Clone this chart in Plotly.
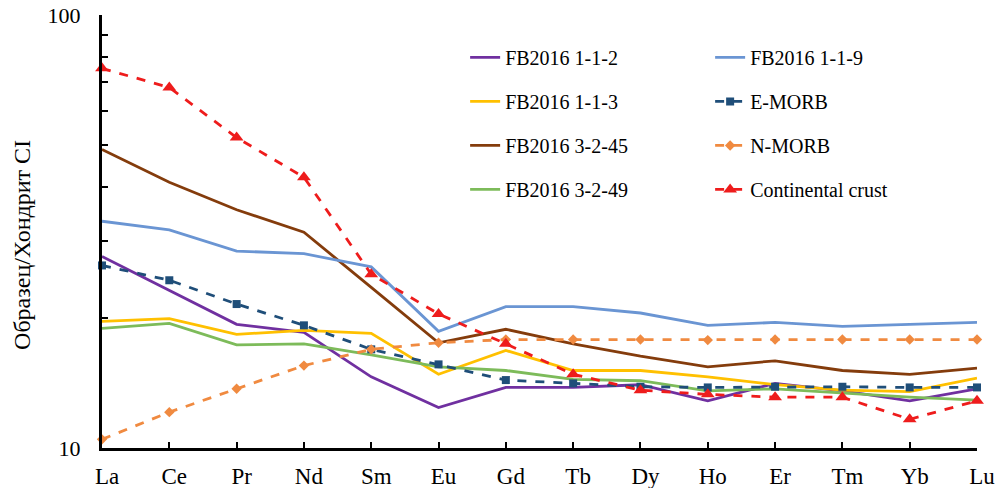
import plotly.graph_objects as go

elements = ["La", "Ce", "Pr", "Nd", "Sm", "Eu", "Gd", "Tb", "Dy", "Ho", "Er", "Tm", "Yb", "Lu"]

fb_112 = [27.7, 23.1, 19.3, 18.5, 14.6, 12.4, 13.8, 13.8, 14.0, 12.85, 14.1, 13.55, 12.85, 13.7]
fb_113 = [19.6, 19.9, 18.3, 18.7, 18.4, 14.8, 16.8, 15.1, 15.1, 14.6, 14.0, 13.6, 13.5, 14.5]
fb_3245 = [48.9, 41.1, 35.5, 31.5, 23.5, 17.5, 18.8, 17.4, 16.3, 15.4, 15.9, 15.1, 14.8, 15.3]
fb_3249 = [18.9, 19.4, 17.3, 17.4, 16.4, 15.4, 15.1, 14.4, 14.3, 13.55, 13.7, 13.4, 13.1, 12.9]
fb_119 = [33.4, 31.9, 28.5, 28.1, 26.2, 18.6, 21.2, 21.2, 20.5, 19.2, 19.5, 19.1, 19.3, 19.5]
e_morb = [26.4, 24.4, 21.5, 19.2, 16.9, 15.6, 14.35, 14.1, 13.85, 13.8, 13.85, 13.85, 13.8, 13.8]
n_morb = [10.47, 12.1, 13.7, 15.5, 16.9, 17.5, 17.8, 17.8, 17.8, 17.75, 17.8, 17.8, 17.8, 17.8]
cont_crust = [75.3, 68.0, 52.1, 42.2, 25.2, 20.4, 17.4, 14.8, 13.6, 13.3, 13.1, 13.1, 11.65, 12.85]

y_title = "Образец/Хондрит CI"

x = list(range(len(elements)))
FONT = "Liberation Serif, Times New Roman, serif"

fig = go.Figure()

def add_line(name, y, color, legend, dash="solid", symbol=None, msize=7):
    fig.add_trace(go.Scatter(
        x=x, y=y, name=name, legend=legend, legendgroup=name,
        mode="lines+markers" if symbol else "lines",
        line=dict(color=color, width=2.8, dash=dash),
        marker=dict(symbol=symbol, size=msize, color=color) if symbol else None,
        cliponaxis=False,
    ))

add_line("FB2016 1-1-2", fb_112, "#7030A0", "legend")
add_line("FB2016 1-1-3", fb_113, "#FFC000", "legend")
add_line("FB2016 3-2-45", fb_3245, "#843C0C", "legend")
add_line("FB2016 3-2-49", fb_3249, "#7DBB5A", "legend")
add_line("FB2016 1-1-9", fb_119, "#6A95D3", "legend2")
add_line("E-MORB", e_morb, "#1F4E79", "legend2", dash="dash", symbol="square", msize=8)
add_line("N-MORB", n_morb, "#F08A40", "legend2", dash="dash", symbol="diamond", msize=8)
add_line("Continental crust", cont_crust, "#EE1C1C", "legend2", dash="dash", symbol="triangle-up", msize=12)

leg_common = dict(
    font=dict(family=FONT, size=20, color="black"),
    bgcolor="rgba(0,0,0,0)",
    tracegroupgap=15,
    itemwidth=30,
    xanchor="left", yanchor="top",
    xref="paper", yref="paper",
)

fig.update_layout(
    width=995, height=488,
    margin=dict(l=102, r=18, t=15, b=40, autoexpand=False),
    paper_bgcolor="white", plot_bgcolor="white",
    font=dict(family=FONT, size=20, color="black"),
    showlegend=True,
    legend=dict(x=0.415, y=0.947, **leg_common),
    legend2=dict(x=0.695, y=0.947, **leg_common),
    xaxis=dict(
        range=[0, 13], tickmode="array", tickvals=x, ticktext=elements,
        showline=True, linecolor="black", linewidth=3,
        ticks="inside", ticklen=6, tickwidth=2, tickcolor="black",
        showgrid=False, zeroline=False, automargin=False,
        ticklabelstandoff=5, ticklabelshift=5, ticklabeloverflow="allow",
        tickfont=dict(family=FONT, size=23),
    ),
    yaxis=dict(
        type="log", range=[1, 2],
        tickmode="array", tickvals=[10, 100], ticktext=["10", "100"],
        showline=True, linecolor="black", linewidth=3,
        ticks="inside", ticklen=7, tickwidth=2, tickcolor="black",
        minor=dict(tickmode="array", tickvals=[20, 30, 40, 50, 60, 70, 80, 90],
                   ticks="inside", ticklen=6, tickwidth=2, tickcolor="black", showgrid=False),
        showgrid=False, zeroline=False, automargin=False,
        ticklabelstandoff=14, ticklabelshift=0, ticklabeloverflow="allow",
        tickfont=dict(family=FONT, size=22),
    ),
    annotations=[dict(
        text=y_title, xref="paper", yref="paper", x=-0.0914, y=0.469,
        xanchor="center", yanchor="middle", textangle=-90, showarrow=False,
        font=dict(family=FONT, size=24, color="black"),
    )],
)

fig.write_html("out.html", config={"displayModeBar": False},
               post_script="document.body.style.margin='0';document.body.style.padding='0';document.documentElement.style.overflow='hidden';")
